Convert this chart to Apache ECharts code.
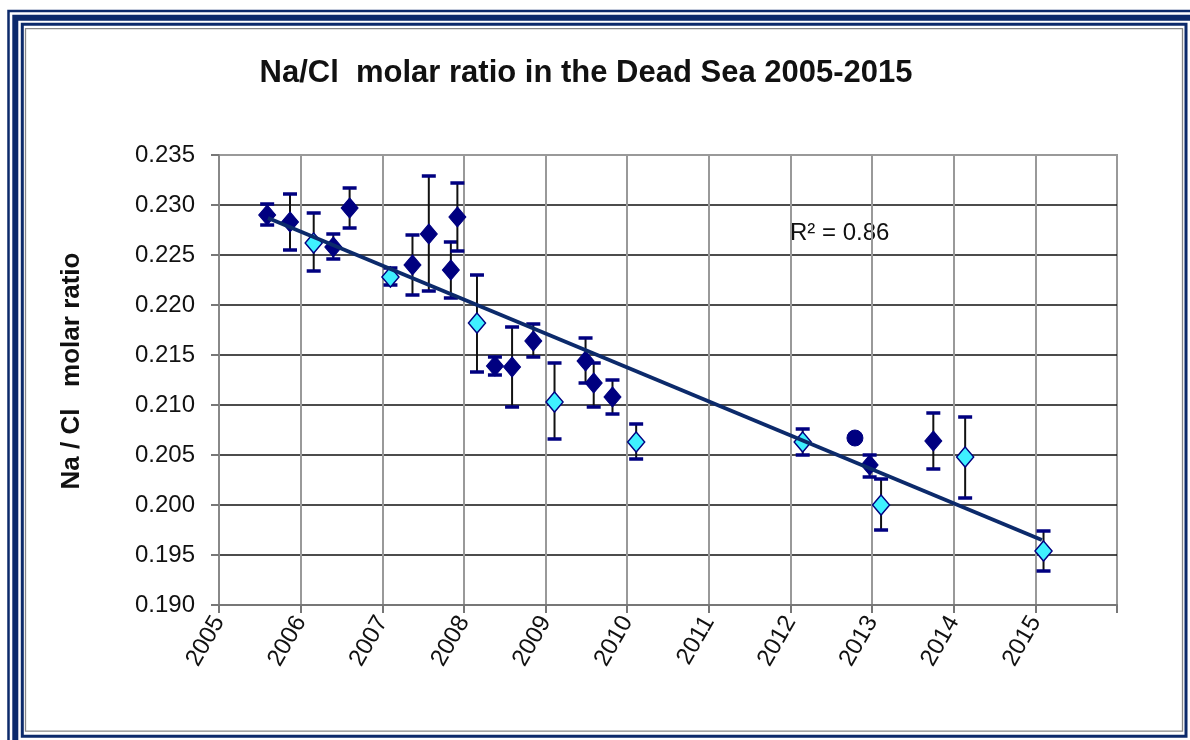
<!DOCTYPE html>
<html>
<head>
    <meta charset="utf-8">
    <title>Na/Cl molar ratio</title>
    <script src="https://cdn.jsdelivr.net/npm/echarts@6/dist/echarts.min.js"></script>
    <style>
        html, body {
            margin: 0;
            padding: 0;
            background: #fff;
        }
        #main {
            width: 1190px;
            height: 740px;
        }
    </style>
</head>
<body>
<div id="main"></div>

<script type="text/javascript">
    // dark (navy) samples
    var darkYears  = [2005.59, 2005.87, 2006.40, 2006.60, 2007.37, 2007.57, 2007.84, 2007.92, 2008.38, 2008.59, 2008.85, 2009.49, 2009.59, 2009.82, 2012.79, 2012.97, 2013.75];
    var darkValues = [0.2290, 0.2283, 0.2258, 0.2297, 0.2240, 0.2271, 0.2235, 0.2288, 0.2139, 0.2138, 0.2164, 0.2144, 0.2122, 0.2108, 0.2067, 0.2040, 0.2064];
    var darkLow    = [0.2280, 0.2255, 0.2246, 0.2277, 0.2210, 0.2214, 0.2207, 0.2254, 0.2130, 0.2098, 0.2148, 0.2122, 0.2098, 0.2091, null, 0.2028, 0.2036];
    var darkHigh   = [0.2301, 0.2311, 0.2271, 0.2317, 0.2270, 0.2329, 0.2263, 0.2322, 0.2148, 0.2178, 0.2181, 0.2167, 0.2142, 0.2125, null, 0.2050, 0.2092];

    // light (cyan) samples
    var cyanYears  = [2006.16, 2007.10, 2008.16, 2009.11, 2010.11, 2012.15, 2013.11, 2014.14, 2015.10];
    var cyanValues = [0.2262, 0.2228, 0.2182, 0.2103, 0.2063, 0.2063, 0.2000, 0.2048, 0.1954];
    var cyanLow    = [0.2234, 0.2220, 0.2133, 0.2066, 0.2046, 0.2050, 0.1975, 0.2007, 0.1934];
    var cyanHigh   = [0.2292, 0.2237, 0.2230, 0.2142, 0.2081, 0.2076, 0.2026, 0.2088, 0.1974];

    // linear trend end points
    var trendYears  = [2005.60, 2015.08];
    var trendValues = [0.2287, 0.1965];

    var rSquared = 'R² = 0.86';

    var font = "'Liberation Sans', Arial, sans-serif";
    var navy = '#0c2a6b';
    var markNavy = '#000080';

    var darkData = darkYears.map(function (y, i) {
        var item = { value: [y, darkValues[i]] };
        if (darkLow[i] === null) {
            item.symbol = 'circle';
            item.symbolSize = 16;
        }
        return item;
    });
    var cyanData = cyanYears.map((y, i) => [y, cyanValues[i]]);
    var trendData = trendYears.map((y, i) => [y, trendValues[i]]);

    var errData = [];
    darkYears.forEach(function (y, i) {
        if (darkLow[i] !== null) errData.push([y, darkLow[i], darkHigh[i]]);
    });
    cyanYears.forEach(function (y, i) {
        errData.push([y, cyanLow[i], cyanHigh[i]]);
    });

    function renderErr(params, api) {
        var x = api.value(0);
        var top = api.coord([x, api.value(2)]);
        var bot = api.coord([x, api.value(1)]);
        var hw = 7;
        return {
            type: 'group',
            children: [
                { type: 'line', shape: { x1: top[0], y1: top[1], x2: bot[0], y2: bot[1] }, style: { stroke: '#111', lineWidth: 2 } },
                { type: 'line', shape: { x1: top[0] - hw, y1: top[1], x2: top[0] + hw, y2: top[1] }, style: { stroke: markNavy, lineWidth: 3.5 } },
                { type: 'line', shape: { x1: bot[0] - hw, y1: bot[1], x2: bot[0] + hw, y2: bot[1] }, style: { stroke: markNavy, lineWidth: 3.5 } }
            ]
        };
    }

    var myChart = echarts.init(document.getElementById('main'));

    var option = {
        backgroundColor: '#fff',
        animation: false,
        title: {
            text: 'Na/Cl  molar ratio in the Dead Sea 2005-2015',
            left: 581,
            top: 53,
            textAlign: 'center',
            textStyle: { fontFamily: font, fontSize: 31, fontWeight: 'bold', color: '#111' }
        },
        graphic: [
            { type: 'rect', shape: { x: 8.5, y: 11, width: 1191, height: 741 }, style: { fill: 'none', stroke: navy, lineWidth: 2.5 }, silent: true },
            { type: 'rect', shape: { x: 15.3, y: 17.7, width: 1178, height: 726 }, style: { fill: 'none', stroke: navy, lineWidth: 6 }, silent: true },
            { type: 'rect', shape: { x: 22.3, y: 24.3, width: 1163.7, height: 712 }, style: { fill: 'none', stroke: navy, lineWidth: 3 }, silent: true },
            { type: 'rect', shape: { x: 25.5, y: 28.7, width: 1157, height: 702.5 }, style: { fill: 'none', stroke: '#888', lineWidth: 1.3 }, silent: true },
            { type: 'text', left: 790, top: 221, style: { text: rSquared, fontFamily: font, fontSize: 24, fill: '#111' } }
        ],
        grid: {
            left: 219,
            right: 73,
            top: 155,
            bottom: 135,
            show: true,
            borderColor: '#999',
            borderWidth: 2
        },
        xAxis: {
            type: 'value',
            min: 2005,
            max: 2016,
            interval: 1,
            axisLine: { lineStyle: { color: '#777', width: 2 } },
            axisTick: { length: 8, lineStyle: { color: '#777', width: 2 } },
            axisLabel: {
                rotate: 60,
                margin: 13,
                fontFamily: font,
                fontSize: 24,
                color: '#111',
                formatter: function (v) { return v === 2016 ? '' : String(v); }
            },
            splitLine: { show: true, showMinLine: false, showMaxLine: false, lineStyle: { color: '#999', width: 2 } }
        },
        yAxis: {
            type: 'value',
            min: 0.19,
            max: 0.235,
            interval: 0.005,
            name: 'Na / Cl   molar ratio',
            nameLocation: 'middle',
            nameGap: 134,
            nameTextStyle: { fontFamily: font, fontSize: 26, fontWeight: 'bold', color: '#111', padding: [0, 0, 0, 18] },
            axisLine: { show: true, lineStyle: { color: '#888', width: 2 } },
            axisTick: { show: true, length: 8, lineStyle: { color: '#777', width: 2 } },
            axisLabel: {
                margin: 24,
                fontFamily: font,
                fontSize: 24,
                color: '#111',
                formatter: function (v) { return v.toFixed(3); }
            },
            splitLine: { show: true, showMinLine: false, showMaxLine: false, lineStyle: { color: '#111', width: 1.5 } }
        },
        series: [
            {
                name: 'err',
                type: 'custom',
                renderItem: renderErr,
                data: errData,
                z: 2
            },
            {
                name: 'dark',
                type: 'scatter',
                symbol: 'diamond',
                symbolSize: [17, 20],
                itemStyle: { color: markNavy, borderColor: markNavy, borderWidth: 1, opacity: 1 },
                data: darkData,
                z: 3
            },
            {
                name: 'cyan',
                type: 'scatter',
                symbol: 'diamond',
                symbolSize: [17, 20],
                itemStyle: { color: '#3ff0ff', borderColor: markNavy, borderWidth: 1.5, opacity: 1 },
                data: cyanData,
                z: 3
            },
            {
                name: 'trend',
                type: 'line',
                data: trendData,
                showSymbol: false,
                lineStyle: { color: navy, width: 4 },
                z: 4
            }
        ]
    };

    myChart.setOption(option);
</script>
</body>
</html>
